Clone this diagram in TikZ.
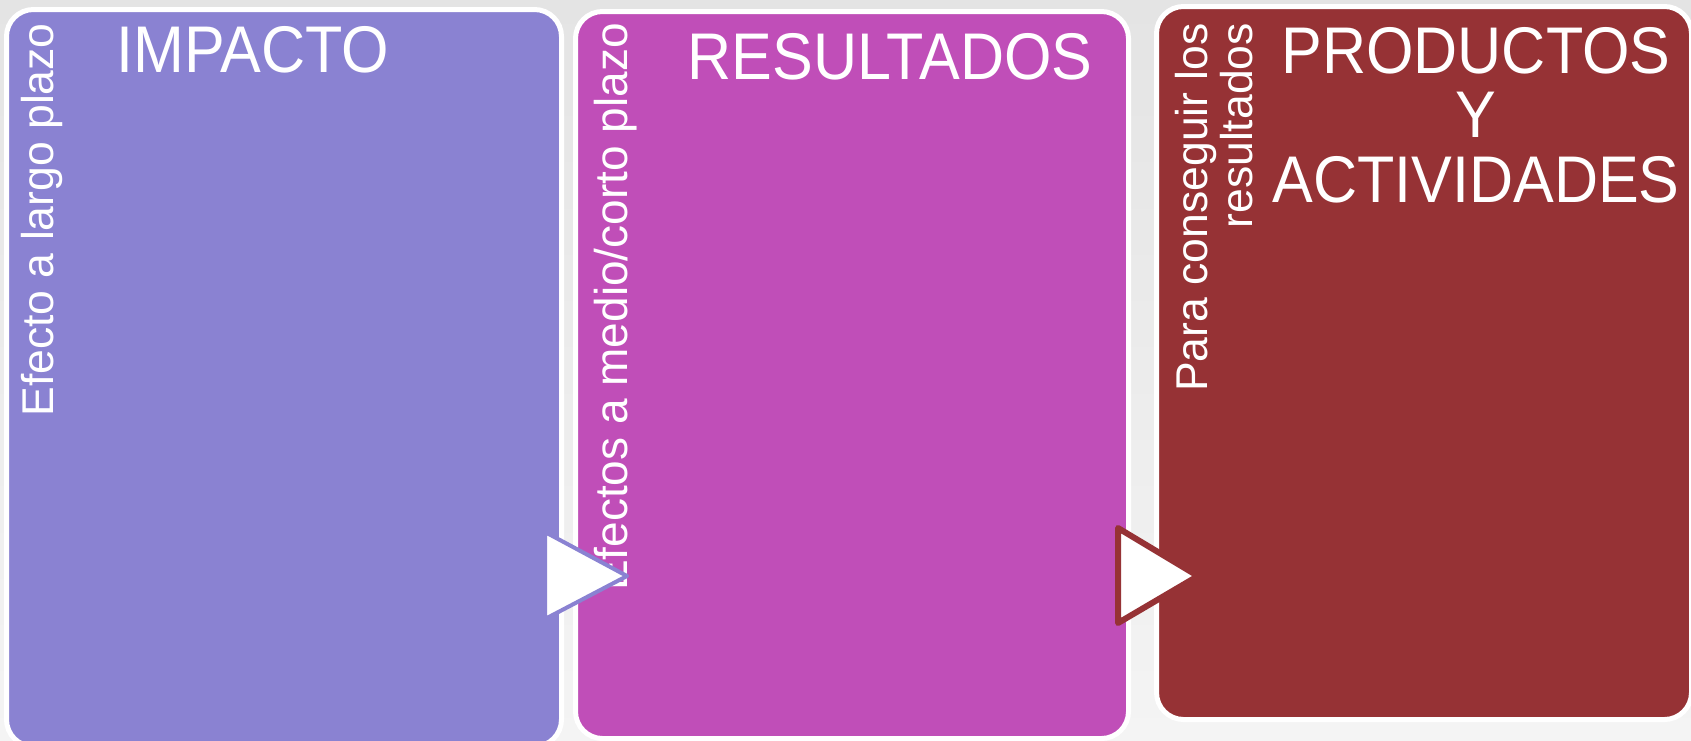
\documentclass[tikz,border=0pt]{standalone}
\usepackage{fontspec}
\setmainfont{Liberation Sans}
\definecolor{impC}{HTML}{8A82D2}
\definecolor{resC}{HTML}{C04EB8}
\definecolor{proC}{HTML}{963235}
\definecolor{bgtop}{HTML}{E4E4E4}
\definecolor{bgbot}{HTML}{F4F4F4}
\begin{document}
\begin{tikzpicture}[x=1pt,y=-1pt,
  panel/.style={rectangle, draw=white, line width=5pt, rounded corners=27pt, inner sep=0pt},
  bigtxt/.style={text=white, inner sep=0pt, anchor=base, xscale=0.925,
    font=\fontsize{66}{64}\selectfont},
  sidetxt/.style={text=white, inner sep=0pt, rotate=90, anchor=base east,
    font=\fontsize{44.5}{44}\selectfont},
  tri/.style={fill=white, line join=round}
]
\useasboundingbox (0,0) rectangle (1691,740);
\shade[top color=bgtop, bottom color=bgbot] (0,0) rectangle (1691,740);

% panels
\node[panel, fill=impC, minimum width=555pt, minimum height=737pt] (impacto) at (284,378) {};
\node[panel, fill=resC, minimum width=553pt, minimum height=727pt] (resultados) at (852,375) {};
\node[panel, fill=proC, minimum width=535pt, minimum height=713pt] (productos) at (1424,363) {};

% titles
\node[bigtxt] (timp) at (253,72) {IMPACTO};
\node[bigtxt] (tres) at (890,79) {RESULTADOS};
\node[bigtxt] (tpro1) at (1476,73) {PRODUCTOS};
\node[bigtxt] (tpro2) at (1476,137) {Y};
\node[bigtxt] (tpro3) at (1476,202) {ACTIVIDADES};

% side labels
\node[sidetxt] (simp) at (53,23) {Efecto a largo plazo};
\node[sidetxt, font=\fontsize{46}{45}\selectfont] (sres) at (627,23) {Efectos a medio/corto plazo};
\node[sidetxt] (spro1) at (1207,23) {Para conseguir los};
\node[sidetxt] (spro2) at (1252,23) {resultados};

% arrow triangles
\draw[tri, draw=impC, line width=4pt] (545,532) -- (545,619) -- (627,576) -- cycle;
\draw[tri, draw=proC, line width=6pt] (1118,528) -- (1118,623) -- (1198,576) -- cycle;
\end{tikzpicture}
\end{document}
